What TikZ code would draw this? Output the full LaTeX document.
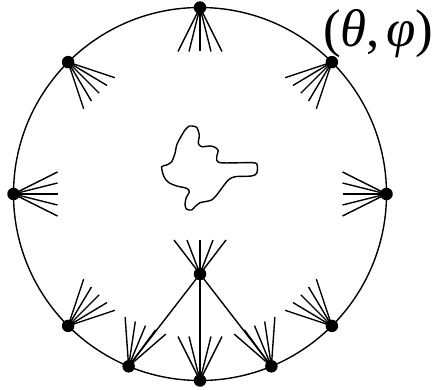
\documentclass[tikz,border=0pt]{standalone}
\usepackage{fontspec}
\setmainfont{Liberation Serif}
\usetikzlibrary{calc}
\tikzset{
  rim/.style={line width=1.4pt},
  ray/.style={line width=1.4pt},
  pt/.style={circle, fill=black, inner sep=0pt, minimum size=12.5pt},
}
% five rays from a node, pointing in direction #2
\newcommand\rayfan[4]{%
  \foreach \k in {-2,...,2}{%
    \draw[ray] (#1.center) -- ($(#1.center)+(#2:#3)+(#2+90:\k*#4)$);
  }%
}
\begin{document}
\begin{tikzpicture}[x=1pt,y=1pt]
  \useasboundingbox (0,0) rectangle (434,389);
  \coordinate (C) at (200,195);
  \def\R{186.5}
  % sphere outline
  \draw[rim] (C) circle (\R);
  % points on the sphere
  \foreach \a/\n in {90/d90,45/d45,135/d135,0/d0,180/d180,-45/dm45,-135/dm135,-67.5/dm67,-112.5/dm112,-90/dm90}{
    \coordinate (\n) at ($(C)+(\a:\R)$);
  }
  \coordinate (in) at (200,115);
  % inward ray fans
  \foreach \a/\n in {90/d90,45/d45,135/d135,0/d0,180/d180,-45/dm45,-135/dm135,-67.5/dm67,-112.5/dm112,-90/dm90}{
    \rayfan{\n}{\a+180}{44}{11}
  }
  \rayfan{in}{90}{34}{13}
  % connectors from the inner point to the bottom points
  \draw[ray] (in) -- (dm112);
  \draw[ray] (in) -- (dm90);
  \draw[ray] (in) -- (dm67);
  % dots
  \foreach \n in {d90,d45,d135,d0,d180,dm45,dm135,dm67,dm112,dm90,in}{
    \node[pt] at (\n) {};
  }
  % irregular body in the middle
  \begin{scope}[shift={(0,389)}, yscale=-1]
    \draw[line width=1.4pt] plot[smooth cycle, tension=0.45] coordinates {
      (191.7,126) (196.7,127.3) (199.3,135) (198.3,143.3) (201.7,146.7)
      (210,146) (215,147.3) (218.3,150.7) (216.7,156.7) (220,162.7)
      (253.3,162.7) (257.3,166) (256.7,173.3) (251.7,176) (235,176.7)
      (228.3,180) (221.7,188.3) (216.7,195) (211.7,200) (205,201.7)
      (200,202.7) (195,206.7) (191.7,210) (186.7,209.3) (185,205)
      (186,198.3) (189.3,191.7) (186.7,188.3) (176.7,186) (170,183.3)
      (166,180) (163.3,175) (161.7,166.7) (166.7,165) (171.7,161.7)
      (175,153.3) (176.7,145) (180,138.3) (185,130) (189.3,126)
    };
  \end{scope}
  % label of the point
  \node[anchor=base west, inner sep=0pt] (lab) at (323,342)
    {\fontsize{53}{61}\selectfont (\textit{θ},\hspace{0.12em}\textit{φ})};
\end{tikzpicture}
\end{document}
